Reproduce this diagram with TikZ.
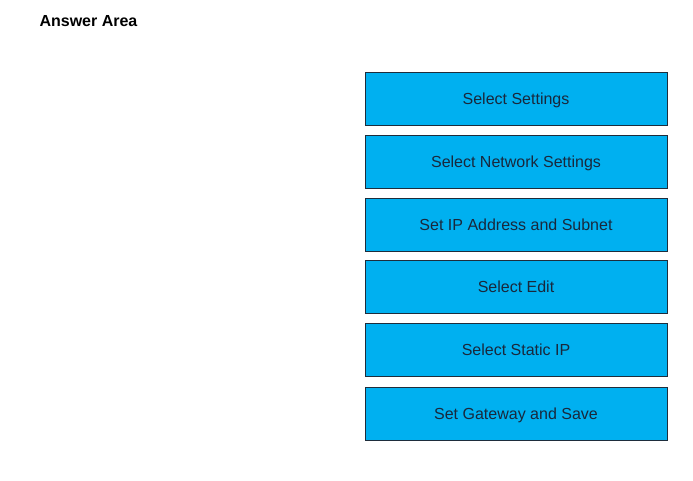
\documentclass[tikz,border=0pt]{standalone}
\usepackage{fontspec}
\setmainfont{Liberation Sans}
\definecolor{stepcyan}{RGB}{0,176,240}
\definecolor{stepline}{RGB}{30,45,60}
\definecolor{steptext}{RGB}{25,40,60}

\begin{document}
\begin{tikzpicture}[x=1pt,y=-1pt,
  every node/.style={font=\fontsize{16}{19}\selectfont},
  stepbox/.style={draw=stepline,line width=1pt,fill=stepcyan,text=steptext,
    minimum width=302pt,minimum height=53pt,inner sep=0pt,text depth=-2pt}]
\useasboundingbox (0,0) rectangle (693,480);
\node[anchor=base west,font=\fontsize{16}{19}\selectfont\bfseries] (title) at (36,26) {Answer Area};
\node[stepbox] (settings) at (516,99.0) {Select Settings};
\node[stepbox] (network) at (516,161.5) {Select Network Settings};
\node[stepbox] (ipaddr) at (516,224.5) {Set IP Address and Subnet};
\node[stepbox] (edit) at (516,287.0) {Select Edit};
\node[stepbox] (static) at (516,349.5) {Select Static IP};
\node[stepbox] (gateway) at (516,414.0) {Set Gateway and Save};
\end{tikzpicture}
\end{document}
